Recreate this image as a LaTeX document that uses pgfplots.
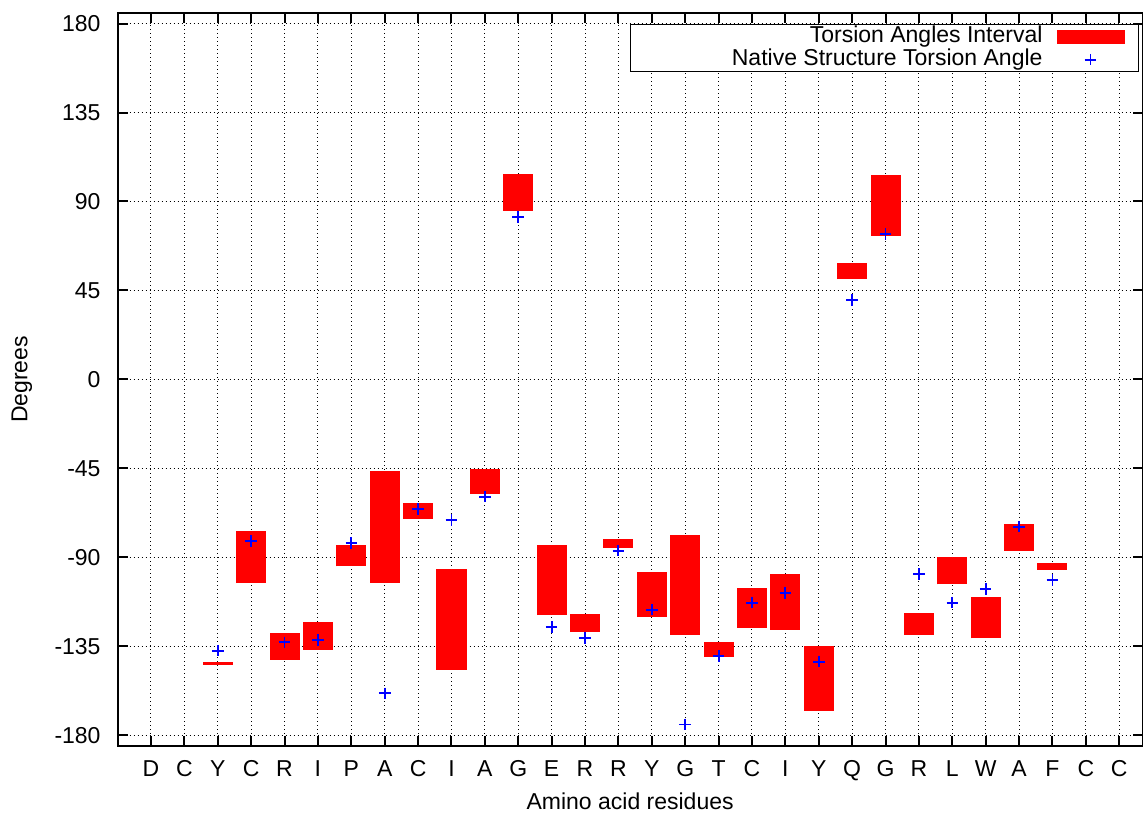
\documentclass[border=0pt]{standalone}
\usepackage{pgfplots}
\pgfplotsset{compat=1.18}
\usepackage{pgfplotstable}
\usepackage{fontspec}
\setmainfont{Liberation Sans}

% interval of torsion angles per residue (degrees)
\pgfplotstableread{
x low high
3 -144.4 -142.8
4 -103.1 -76.5
5 -141.9 -128.4
6 -136.7 -122.9
7 -94.6 -83.6
8 -102.8 -46.2
9 -70.4 -62.7
10 -146.8 -96.1
11 -57.8 -45.3
12 85.3 103.8
13 -119.3 -83.8
14 -127.8 -118.7
15 -85.1 -80.7
16 -120.3 -97.4
17 -129.1 -78.9
18 -140.2 -132.8
19 -125.7 -105.7
20 -126.7 -98.3
21 -167.5 -134.8
22 50.7 58.8
23 72.6 103.5
24 -129.1 -118.3
25 -103.7 -89.8
26 -131.0 -110.1
27 -86.6 -73.1
28 -96.2 -92.7
}\intervals

% native structure torsion angle
\pgfplotstableread{
x native
3 -137.2
4 -81.7
5 -133.0
6 -131.8
7 -82.9
8 -158.8
9 -65.6
10 -71.1
11 -59.3
12 82.2
13 -125.4
14 -130.8
15 -86.6
16 -116.5
17 -174.6
18 -139.9
19 -112.9
20 -108.0
21 -142.8
22 40.2
23 73.4
24 -98.4
25 -112.9
26 -106.0
27 -74.5
28 -101.6
}\native

\newcommand{\fs}{\fontsize{11.5pt}{13pt}\selectfont}

\begin{document}
\begin{tikzpicture}[font=\fs]
\begin{axis}[
  name=main,
  width=512.5pt, height=366.2pt, scale only axis,
  xmin=0, xmax=30.7, ymin=-185.3, ymax=185.2,
  xtick={1,...,30},
  xticklabels={D,C,Y,C,R,I,P,A,C,I,A,G,E,R,R,Y,G,T,C,I,Y,Q,G,R,L,W,A,F,C,C},
  ytick={-180,-135,-90,-45,0,45,90,135,180},
  yticklabels={-180,-135,-90,-45,0,45,90,135,180},
  /pgf/number format/assume math mode=true,
  grid=major,
  major grid style={black, line width=0.5pt, dash pattern=on 0.5pt off 1.5pt},
  axis line style={black, line width=1pt},
  tick style={black, line width=1pt},
  major tick length=5pt,
  tick label style={font=\fs},
  xticklabel style={anchor=base, yshift=-15.2pt},
  yticklabel style={anchor=east, xshift=-5pt},
  xlabel={Amino acid residues},
  ylabel={Degrees},
  label style={font=\fs},
  xlabel style={at={(axis description cs:0.5,-0.0765)}, anchor=center},
  ylabel style={at={(axis description cs:-0.0933,0.5)}, anchor=center},
  legend cell align=right,
  legend plot pos=right,
  legend style={at={(1,1)}, anchor=north east, xshift=-1.8pt, yshift=-5.35pt,
    inner xsep=7pt, inner ysep=0.3pt, row sep=0pt, column sep=7pt,
    nodes={inner sep=0pt, text height=8.5pt, text depth=3pt},
    draw=black, line width=0.5pt, font=\fs},
]
% each interval drawn as a thick bar (0.9 category wide) from low to high
\addplot[only marks, mark=*, mark size=0pt,
  mark options={draw opacity=0, fill opacity=0},
  error bars/.cd, y dir=plus, y explicit, error mark=none,
  error bar style={red, line width=15.02pt, line cap=butt},
  /pgfplots/legend image code/.code={\fill[red] (0pt,-3.25pt) rectangle (33.5pt,3.25pt);}]
  table[x=x, y=low, y error plus expr=\thisrow{high}-\thisrow{low}]{\intervals};
\addlegendentry{Torsion Angles Interval}
\addplot[only marks, mark=+, blue, mark size=2.9pt, line width=0.95pt,
  legend image code/.code={\draw[blue, line width=0.95pt, mark size=2.9pt] plot[mark=+] coordinates {(16.75pt,0pt)};}]
  table[x=x, y=native]{\native};
\addlegendentry{\hspace*{43.9pt}Native Structure Torsion Angle}
\end{axis}
\pgfresetboundingbox
\path (main.south west) ++(-58.8pt,-35.65pt) rectangle ++(571.5pt,408.5pt);
\end{tikzpicture}
\end{document}
